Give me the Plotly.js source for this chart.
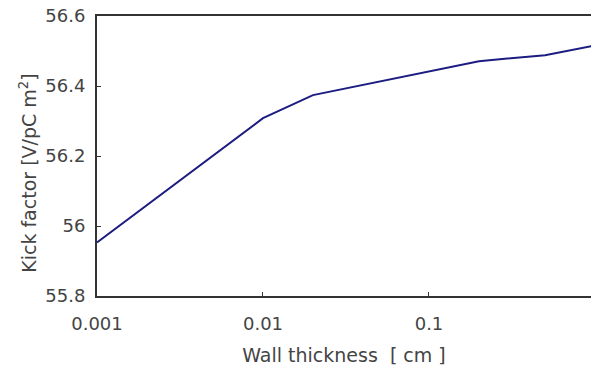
<!DOCTYPE html>
<html>
<head>
<meta charset="utf-8">
<script src="https://cdn.plot.ly/plotly-3.0.1.min.js"></script>
<style>html,body{margin:0;padding:0;background:#fff;}#chart{width:591px;height:368px;}</style>
</head>
<body>
<div id="chart"></div>
<script>
const wallThickness = [0.001, 0.01, 0.02, 0.2, 0.5, 1];
const kickFactor = [55.953, 56.308, 56.374, 56.471, 56.488, 56.516];
const xTickVals = [0.001, 0.01, 0.1];
const xTickText = ['0.001', '0.01', '0.1'];
const yTickVals = [55.8, 56, 56.2, 56.4, 56.6];
const yTickText = ['55.8', '56', '56.2', '56.4', '56.6'];
const xTitle = 'Wall thickness  [ cm ]';
const yTitle = 'Kick factor [V/pC m<sup>2</sup>]';

const trace = {
  x: wallThickness, y: kickFactor, type: 'scatter', mode: 'lines',
  line: {color: '#1c1c82', width: 2}, showlegend: false
};
const fam = 'DejaVu Sans, sans-serif';
const axisFont = {family: fam, size: 18, color: '#444'};
const layout = {
  width: 591, height: 368,
  margin: {l: 97, r: 0, t: 16, b: 72},
  paper_bgcolor: '#fff', plot_bgcolor: '#fff',
  font: {family: fam, color: '#444'},
  xaxis: {
    type: 'log', range: [-3, -0.024],
    tickvals: xTickVals, ticktext: xTickText,
    ticks: 'inside', ticklen: 4, tickcolor: '#333', tickwidth: 1,
    showline: true, linecolor: '#333', linewidth: 2, mirror: true,
    showgrid: false, zeroline: false,
    tickfont: axisFont, ticklabelstandoff: 10,
    title: {text: xTitle, font: {family: fam, size: 19, color: '#444'}, standoff: 16}
  },
  yaxis: {
    range: [55.8, 56.6],
    tickvals: yTickVals, ticktext: yTickText,
    ticks: 'inside', ticklen: 4, tickcolor: '#333', tickwidth: 1,
    showline: true, linecolor: '#333', linewidth: 2, mirror: false,
    showgrid: false, zeroline: false,
    tickfont: axisFont, ticklabelstandoff: 6
  },
  annotations: [{
    text: yTitle, textangle: -90, showarrow: false,
    xref: 'paper', yref: 'paper', x: (28 - 97) / 494, y: 0.44,
    xanchor: 'center', yanchor: 'middle',
    font: {family: fam, size: 19, color: '#444'}
  }]
};
Plotly.newPlot('chart', [trace], layout, {staticPlot: true, displayModeBar: false});
</script>
</body>
</html>
